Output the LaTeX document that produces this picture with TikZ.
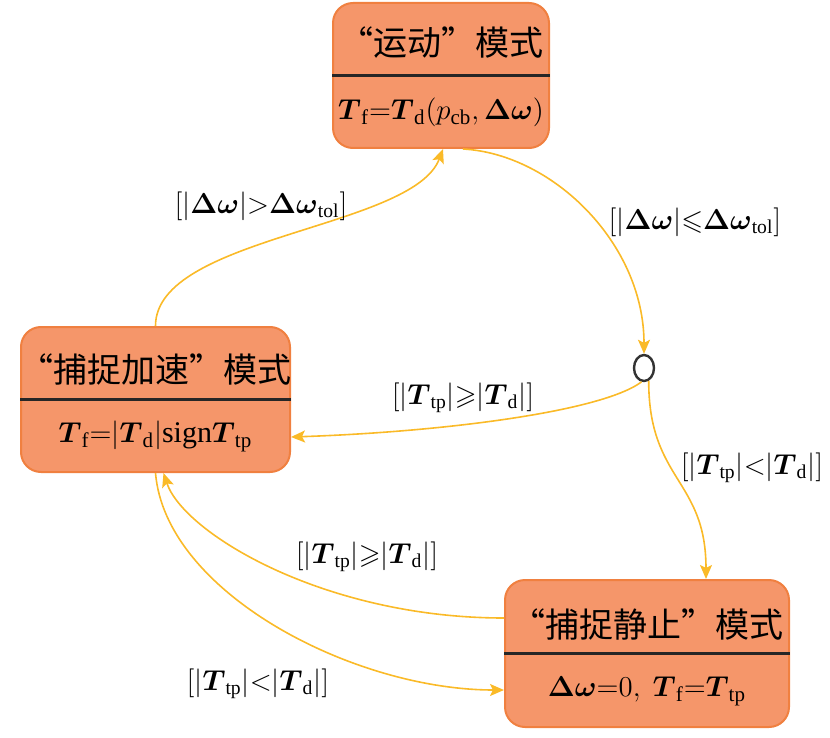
\documentclass[tikz,border=0pt]{standalone}
\usepackage{amsmath,amssymb}
\usepackage{fontspec}
\setmainfont{Liberation Serif}
\newfontfamily\cjk{Noto Sans CJK SC}
\usepackage{tikz}
\usetikzlibrary{shapes,arrows,positioning,calc,arrows.meta}
\definecolor{boxfill}{RGB}{245,150,106}
\definecolor{boxedge}{RGB}{240,128,64}
\definecolor{flowline}{RGB}{250,186,40}
\newcommand{\bT}{\boldsymbol{T}}
\newcommand{\dw}{\boldsymbol{\Delta\omega}}

\begin{document}
\begin{tikzpicture}[x=0.5pt,y=-0.5pt,
    modebox/.style={draw=boxedge, fill=boxfill, line width=1pt, rounded corners=10pt, minimum height=72.5pt, inner sep=0pt},
    divider/.style={draw=black!85, line width=1.1pt},
    title/.style={font=\fontsize{17}{20}\selectfont\cjk, inner sep=0pt},
    law/.style={font=\fontsize{15}{18}\selectfont, inner sep=0pt},
    junction/.style={ellipse, draw=black!80, line width=1.2pt, fill=white, minimum width=10pt, minimum height=13pt, inner sep=0pt},
    flow/.style={draw=flowline, line width=0.8pt, -{Stealth[length=7pt,width=6pt,inset=1.5pt]}},
    guard/.style={font=\fontsize{14}{17}\selectfont, inner sep=0pt}]
    \useasboundingbox (0,0) rectangle (830,738);

    % Run mode
    \node[modebox, minimum width=108pt] (run) at (441,75.5) {};
    \draw[divider] (run.west) -- (run.east);
    \node[title] (runT) at ([yshift=16.5pt]run.center) {“运动”模式};
    \node[law] (runL) at ([yshift=-18.5pt]run.center) {$\bT_{\mathrm{f}}{=}\bT_{\mathrm{d}}(p_{\mathrm{cb}},\dw)$};

    % Capture accelerate mode
    \node[modebox, minimum width=134.5pt] (acc) at (155.5,399.5) {};
    \draw[divider] (acc.west) -- (acc.east);
    \node[title] (accT) at ([yshift=15pt]acc.center) {“捕捉加速”模式};
    \node[law] (accL) at ([yshift=-18.5pt]acc.center) {$\bT_{\mathrm{f}}{=}|\bT_{\mathrm{d}}|\mathrm{sign}\bT_{\mathrm{tp}}$};

    % Capture rest mode
    \node[modebox, minimum width=142pt, minimum height=73.5pt] (still) at (647,653.5) {};
    \draw[divider] (still.west) -- (still.east);
    \node[title] (stillT) at ([yshift=14.5pt]still.center) {“捕捉静止”模式};
    \node[law] (stillL) at ([yshift=-19pt]still.center) {$\dw{=}0,\ \bT_{\mathrm{f}}{=}\bT_{\mathrm{tp}}$};

    % Choice point
    \node[junction] (fork) at (644,368) {};

    % Transitions
    \draw[flow] ([xshift=11pt]run.south) .. controls +(90,5) and +(0,-110) .. (fork.north);
    \draw[flow] (acc.north) .. controls +(0,-90) and +(-30,80) .. ([xshift=1pt]run.south);
    \draw[flow] (fork.-100) .. controls +(-40,30) and +(150,-5) .. ([yshift=-18.75pt]acc.east);
    \draw[flow] (fork.-70) .. controls +(0,100) and +(0,-100) .. ([xshift=29.5pt]still.north);
    \draw[flow] ([yshift=17.75pt]still.west) .. controls +(-180,0) and +(20,60) .. ([xshift=4pt]acc.south);
    \draw[flow] (acc.south) .. controls +(10,120) and +(-150,0) .. ([yshift=-18.25pt]still.west);

    % Guards
    \node[guard] (gRunFork) at (695,222) {$[|\dw|{\leqslant}\dw_{\mathrm{tol}}]$};
    \node[guard] (gAccRun) at (261,206) {$[|\dw|{>}\dw_{\mathrm{tol}}]$};
    \node[guard] (gForkAcc) at (463,398) {$[|\bT_{\mathrm{tp}}|{\geqslant}|\bT_{\mathrm{d}}|]$};
    \node[guard] (gForkStill) at (752,468) {$[|\bT_{\mathrm{tp}}|{<}|\bT_{\mathrm{d}}|]$};
    \node[guard] (gStillAcc) at (367,557) {$[|\bT_{\mathrm{tp}}|{\geqslant}|\bT_{\mathrm{d}}|]$};
    \node[guard] (gAccStill) at (258,684) {$[|\bT_{\mathrm{tp}}|{<}|\bT_{\mathrm{d}}|]$};
\end{tikzpicture}
\end{document}
